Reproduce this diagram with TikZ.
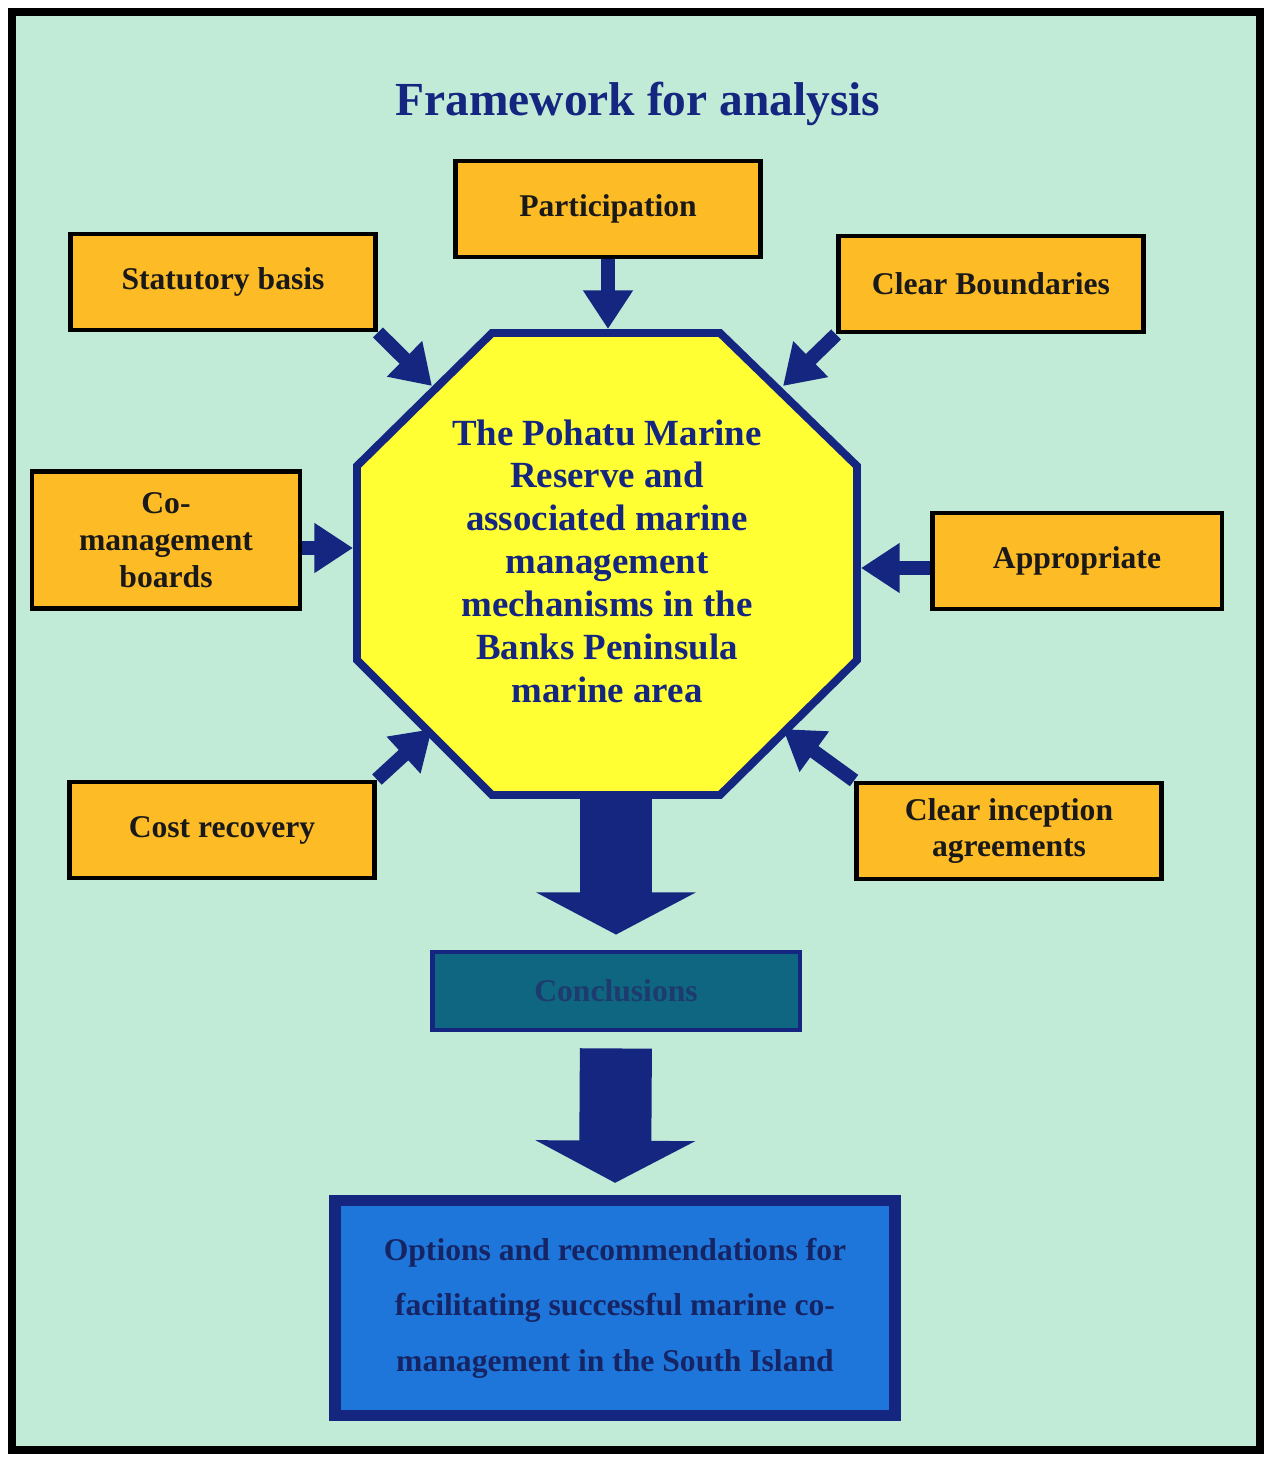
\documentclass[tikz,border=0pt]{standalone}
\usepackage{fontspec}
\setmainfont{Liberation Serif}
\usetikzlibrary{arrows.meta}
\definecolor{mint}{RGB}{193,234,215}
\definecolor{navy}{RGB}{20,38,128}
\definecolor{boxorange}{RGB}{253,187,38}
\definecolor{coreyellow}{RGB}{255,255,52}
\definecolor{conteal}{RGB}{14,102,128}
\definecolor{optblue}{RGB}{30,118,218}
\tikzset{
    factor/.style={draw=black,line width=2.8pt,fill=boxorange,align=center,
        minimum width=6.1cm,minimum height=1.92cm,inner sep=2pt,
        font=\bfseries\fontsize{18}{21}\selectfont,text=black!90},
    feed/.style={navy,line width=8pt,-{Triangle[length=22pt,width=27pt]}},
    flow/.style={navy,line width=41pt,-{Triangle[length=24pt,width=90pt]}}
}
\begin{document}
\begin{tikzpicture}[x=0.02cm,y=-0.02cm]
    \useasboundingbox (0,0) rectangle (1272,1457);
    \draw[black,line width=4.5pt,fill=mint] (12,12) rectangle (1260,1450);
    \node[navy,font=\bfseries\fontsize{27}{30}\selectfont] (title) at (638,104) {Framework for analysis};
    \draw[navy,line width=4.5pt,fill=coreyellow] (492,333) -- (720,333) -- (857,466) -- (857,660)
        -- (720,795) -- (492,795) -- (357,660) -- (357,466) -- cycle;
    \coordinate (octN) at (608,329);
    \coordinate (octNW) at (432,386);
    \coordinate (octNE) at (783,386);
    \coordinate (octW) at (353,548);
    \coordinate (octE) at (861,568);
    \coordinate (octSW) at (432,729);
    \coordinate (octSE) at (783,729);
    \coordinate (octS) at (616,797);
    \node[align=center,text=navy,font=\bfseries\fontsize{21}{24.4}\selectfont] (core) at (607,561)
        {The Pohatu Marine\\Reserve and\\associated marine\\management\\mechanisms in the\\Banks Peninsula\\marine area};
    \node[factor] (part) at (608,209) {Participation};
    \node[factor] (stat) at (223,282) {Statutory basis};
    \node[factor] (bound) at (991,284) {Clear Boundaries};
    \node[factor,minimum width=5.36cm,minimum height=2.74cm] (coman) at (166,540) {Co-\\management\\boards};
    \node[factor,minimum width=5.8cm] (approp) at (1077,561) {Appropriate};
    \node[factor] (cost) at (222,830) {Cost recovery};
    \node[factor] (incep) at (1009,831) {Clear inception\\agreements};
    \node[draw=navy,line width=2.8pt,fill=conteal,minimum width=7.36cm,minimum height=1.56cm,
        text={rgb,255:red,30;green,58;blue,110},font=\bfseries\fontsize{18}{21}\selectfont] (concl) at (616,991) {Conclusions};
    \node[draw=navy,line width=6.5pt,fill=optblue,minimum width=11.2cm,minimum height=4.3cm,align=center,
        text={rgb,255:red,22;green,36;blue,100},font=\bfseries\fontsize{18}{31.5}\selectfont] (opts) at (615,1308)
        {Options and recommendations for\\facilitating successful marine co-\\management in the South Island};
    \draw[feed] (part) -- (octN);
    \draw[feed] (stat.south east) -- (octNW);
    \draw[feed] (bound.south west) -- (octNE);
    \draw[feed] (coman.east |- octW) -- (octW);
    \draw[feed] (approp.west |- octE) -- (octE);
    \draw[feed] (cost.north east) -- (octSW);
    \draw[feed] (incep.north west) -- (octSE);
    \draw[flow,shorten >=0.3cm] (octS) -- (concl.north);
    \draw[flow,shorten <=0.32cm,shorten >=0.24cm] (concl.south) -- (opts.north);
\end{tikzpicture}
\end{document}
